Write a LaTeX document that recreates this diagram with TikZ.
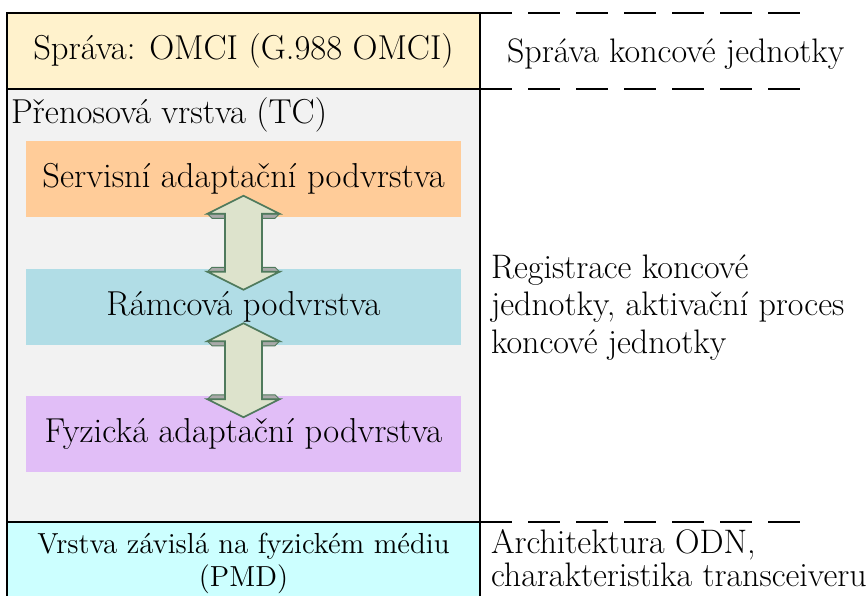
\documentclass[tikz,border=0pt]{standalone}
\usepackage{fontspec}
\usetikzlibrary{calc}

\definecolor{omcifill}{HTML}{FFF2CC}
\definecolor{tcfill}{HTML}{F2F2F2}
\definecolor{servfill}{HTML}{FFCC99}
\definecolor{ramfill}{HTML}{B1DDE6}
\definecolor{fyzfill}{HTML}{E1BEF7}
\definecolor{pmdfill}{HTML}{CCFFFF}
\definecolor{arrowfill}{HTML}{DDE3CC}
\definecolor{arrowline}{HTML}{4F7A5C}
\definecolor{arrowside}{HTML}{A9A9A9}

\tikzset{
  layer/.style={draw=black, line width=1pt, inner sep=0pt, outer sep=0pt,
    anchor=north west, minimum width=236.5pt},
  sublayer/.style={inner sep=0pt, outer sep=0pt, minimum width=217.5pt,
    minimum height=38pt, font=\fontsize{17.3}{18.75}\selectfont},
  txt/.style={inner sep=0pt, outer sep=0pt, font=\fontsize{17.3}{18.75}\selectfont},
  functxt/.style={inner sep=0pt, outer sep=0pt, anchor=base west, align=left,
    font=\fontsize{17}{18.75}\selectfont},
  boundary/.style={line width=1pt, dash pattern=on 16pt off 8pt},
  pics/updown/.style={code={
    % depth faces under/over the arrow wings
    \filldraw[fill=arrowside, draw=arrowline, line width=0.5pt]
      (-36,-29) -- (-18.5,-29) -- (-18.5,-24.5) -- (-31.5,-24.5) -- cycle;
    \filldraw[fill=arrowside, draw=arrowline, line width=0.5pt]
      (36,-29) -- (18.5,-29) -- (18.5,-24.5) -- (31.5,-24.5) -- cycle;
    \filldraw[fill=arrowside, draw=arrowline, line width=0.5pt]
      (-36,29) -- (-18.5,29) -- (-18.5,24.5) -- (-31.5,24.5) -- cycle;
    \filldraw[fill=arrowside, draw=arrowline, line width=0.5pt]
      (36,29) -- (18.5,29) -- (18.5,24.5) -- (31.5,24.5) -- cycle;
    % the double arrow itself
    \filldraw[fill=arrowfill, draw=arrowline, line width=0.8pt, line join=miter]
      (0,-47) -- (36,-29) -- (18.5,-29) -- (18.5,29) -- (36,29) -- (0,47)
      -- (-36,29) -- (-18.5,29) -- (-18.5,-29) -- (-36,-29) -- cycle;
  }}
}

\begin{document}
\begin{tikzpicture}[x=0.5pt, y=-0.5pt]
  \useasboundingbox (0,0) rectangle (867,595);
  \clip (0,0) rectangle (867,595);

  % protocol layers
  \node[layer, fill=omcifill, minimum height=38pt,
        font=\fontsize{17.3}{18.75}\selectfont] (omci) at (7,13)
        {Správa: OMCI (G.988 OMCI)};
  \node[layer, fill=tcfill, minimum height=216.5pt] (tc) at (7,89) {};
  \node[layer, fill=pmdfill, minimum height=60pt] (pmd) at (7,522) {};

  % transmission convergence sublayers
  \node[txt, anchor=base west] (tclabel) at (11,123) {Přenosová vrstva (TC)};
  \node[sublayer, fill=servfill] (serv) at (243.5,179) {Servisní adaptační podvrstva};
  \node[sublayer, fill=ramfill]  (ram)  at (243.5,306.5) {Rámcová podvrstva};
  \node[sublayer, fill=fyzfill]  (fyz)  at (243.5,434) {Fyzická adaptační podvrstva};

  \pic at ($(serv.south)!0.5!(ram.north)$) {updown};
  \pic at ($(ram.south)!0.5!(fyz.north)$) {updown};

  % physical medium dependent layer text (base = last line)
  \node[inner sep=0pt, align=center, anchor=base,
        font=\fontsize{14.5}{16.5}\selectfont] (pmdtext) at (243.5,586)
        {Vrstva závislá na fyzickém médiu\\(PMD)};

  % boundaries continued to the function column
  \coordinate (e1) at (800,13);
  \coordinate (e2) at (800,89);
  \coordinate (e3) at (800,522);
  \draw[boundary] (omci.north east) -- (e1);
  \draw[boundary] (omci.south east) -- (e2);
  \draw[boundary] (pmd.north east) -- (e3);

  % functions of each layer
  \node[functxt] (f1) at (507,62) {Správa koncové jednotky};
  \node[functxt] (f2) at (491,353)
        {Registrace koncové\\jednotky, aktivační proces\\koncové jednotky};
  \node[functxt, font=\fontsize{17}{16.5}\selectfont] (f3) at (491,586)
        {Architektura ODN,\\charakteristika transceiveru};
\end{tikzpicture}
\end{document}
